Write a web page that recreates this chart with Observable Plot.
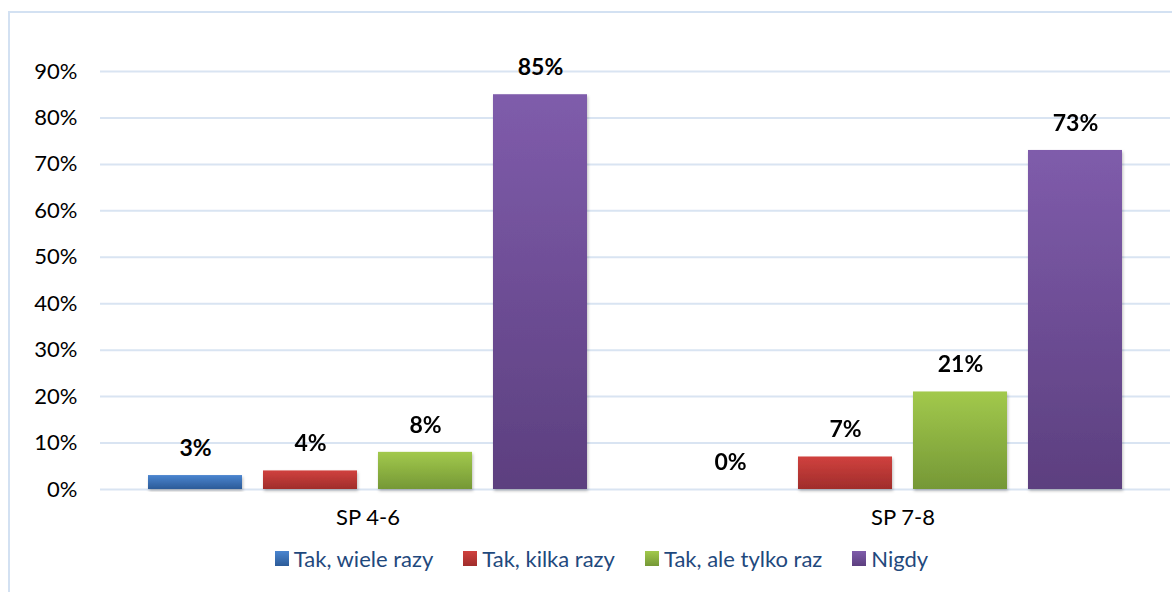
<!DOCTYPE html>
<html><head><meta charset="utf-8">
<script src="https://cdn.jsdelivr.net/npm/d3@7"></script>
<script src="https://cdn.jsdelivr.net/npm/@observablehq/plot@0.6"></script>
<style>
body{margin:0;background:#fff;font-family:Lato,sans-serif;overflow:hidden;width:1172px;height:592px;}
#frame{position:absolute;left:8px;top:11px;width:1300px;height:700px;border-left:2px solid #d3e1f2;border-top:2px solid #d3e1f2;}
#chart{position:absolute;left:0;top:0;}
#legend{position:absolute;left:0;top:545px;width:1203px;display:flex;justify-content:center;align-items:center;font-family:Lato,sans-serif;font-size:22px;color:#1f497d;}
#legend .item{display:flex;align-items:center;margin:0 15px;}
#legend .sw{width:14px;height:15px;margin-right:5px;}
</style></head>
<body><div id="frame"></div><div id="chart"></div><div id="legend"></div>
<script>
const groups = ["SP 4-6", "SP 7-8"];
const series = ["Tak, wiele razy", "Tak, kilka razy", "Tak, ale tylko raz", "Nigdy"];
const valuesSP46 = [3, 4, 8, 85];
const valuesSP78 = [0, 7, 21, 73];
const yTicks = [0, 10, 20, 30, 40, 50, 60, 70, 80, 90];
const gradients = [["#4a85d0", "#2c5b98"], ["#d0413e", "#a02d2b"], ["#a2c94c", "#759836"], ["#7f5cab", "#5c3f7f"]];

const groupValues = [valuesSP46, valuesSP78];
const data = groups.flatMap((g, gi) => series.map((s, si) => ({group: g, series: s, value: groupValues[gi][si]})));

const plot = Plot.plot({
  width: 1172,
  height: 540,
  marginLeft: 100,
  marginRight: 2,
  marginTop: 71,
  marginBottom: 51,
  style: {fontFamily: "Lato, sans-serif", fontSize: "22px", color: "#000", background: "transparent"},
  fx: {domain: groups, padding: 0, axis: "bottom", tickSize: 0, tickPadding: 20, label: null},
  x: {domain: series, axis: null, paddingInner: 0.18, paddingOuter: 0.4},
  y: {domain: [0, 90], ticks: yTicks, tickFormat: d => d + "%", tickSize: 0, tickPadding: 23, label: null},
  marks: [
    Plot.ruleY(yTicks, {stroke: "#d9e4f2", strokeWidth: 2}),
    ...series.map((s, i) => Plot.barY(data.filter(d => d.series === s), {fx: "group", x: "series", y: "value", fill: `url(#grad${i})`})),
    Plot.text(data, {fx: "group", x: "series", y: "value", text: d => d.value + "%", dy: -27, fontWeight: "bold", fontSize: 23, fill: "#000"})
  ]
});

const svg = d3.select(plot);
const defs = svg.insert("defs", ":first-child");
gradients.forEach(([top, bot], i) => {
  const lg = defs.append("linearGradient").attr("id", "grad" + i).attr("x1", 0).attr("y1", 0).attr("x2", 0).attr("y2", 1);
  lg.append("stop").attr("offset", "0%").attr("stop-color", top);
  lg.append("stop").attr("offset", "100%").attr("stop-color", bot);
});
const f = defs.append("filter").attr("id", "shadow").attr("x", "-10%").attr("y", "-10%").attr("width", "130%").attr("height", "130%");
f.append("feDropShadow").attr("dx", 1).attr("dy", 2).attr("stdDeviation", 1.5).attr("flood-color", "#000").attr("flood-opacity", 0.25);
svg.selectAll('g[aria-label="bar"]').attr("filter", "url(#shadow)");

document.getElementById("chart").appendChild(plot);

const legend = d3.select("#legend");
series.forEach((s, i) => {
  const it = legend.append("div").attr("class", "item");
  it.append("div").attr("class", "sw").style("background", `linear-gradient(${gradients[i][0]}, ${gradients[i][1]})`);
  it.append("span").text(s);
});
</script>
</body></html>
